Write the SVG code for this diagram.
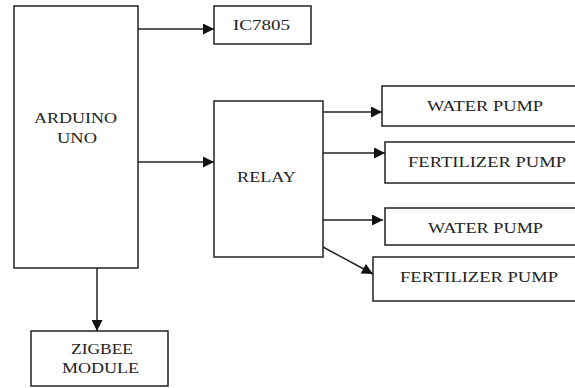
<svg xmlns="http://www.w3.org/2000/svg" width="575" height="388" viewBox="0 0 575 388">
<style>
.box{fill:#fff;stroke:#222;stroke-width:1.5}
.t{font-family:'Liberation Serif','DejaVu Serif',serif;font-size:15px;fill:#222;text-anchor:start}
.c{stroke:#222;stroke-width:1.5;fill:none}
</style>
<defs>
<marker id="ah" viewBox="0 0 10 10" refX="10" refY="5" markerWidth="12" markerHeight="11" markerUnits="userSpaceOnUse" orient="auto">
<path d="M0,0L10,5L0,10z" fill="#111"/>
</marker>
</defs>
<rect width="575" height="388" fill="#fff"/>
<g id="arduino"><rect class="box" x="14" y="6" width="124" height="262"/>
<text class="t" x="34" y="123" textLength="83" lengthAdjust="spacingAndGlyphs">ARDUINO</text>
<text class="t" x="57" y="143" textLength="40" lengthAdjust="spacingAndGlyphs">UNO</text></g>
<g id="ic7805"><rect class="box" x="214" y="6" width="97" height="38"/>
<text class="t" x="233" y="30" textLength="57" lengthAdjust="spacingAndGlyphs">IC7805</text></g>
<g id="relay"><rect class="box" x="214" y="101" width="109" height="156"/>
<text class="t" x="237" y="182" textLength="59" lengthAdjust="spacingAndGlyphs">RELAY</text></g>
<g id="waterpump1"><rect class="box" x="382" y="86" width="200" height="40"/>
<text class="t" x="427" y="111" textLength="116" lengthAdjust="spacingAndGlyphs">WATER PUMP</text></g>
<g id="fertpump1"><rect class="box" x="385" y="142" width="200" height="41"/>
<text class="t" x="408" y="167" textLength="158" lengthAdjust="spacingAndGlyphs">FERTILIZER PUMP</text></g>
<g id="waterpump2"><rect class="box" x="385" y="208" width="200" height="37"/>
<text class="t" x="428" y="233" textLength="115" lengthAdjust="spacingAndGlyphs">WATER PUMP</text></g>
<g id="fertpump2"><rect class="box" x="373" y="257" width="210" height="44"/>
<text class="t" x="400" y="282" textLength="158" lengthAdjust="spacingAndGlyphs">FERTILIZER PUMP</text></g>
<g id="zigbee"><rect class="box" x="31" y="331" width="137" height="55"/>
<text class="t" x="71" y="354" textLength="62" lengthAdjust="spacingAndGlyphs">ZIGBEE</text>
<text class="t" x="62" y="373" textLength="77" lengthAdjust="spacingAndGlyphs">MODULE</text></g>
<g id="connectors">
<line class="c" x1="138" y1="29" x2="214" y2="29" marker-end="url(#ah)"/>
<line class="c" x1="138" y1="162" x2="214" y2="162" marker-end="url(#ah)"/>
<line class="c" x1="323" y1="112" x2="382" y2="112" marker-end="url(#ah)"/>
<line class="c" x1="323" y1="153" x2="385" y2="153" marker-end="url(#ah)"/>
<line class="c" x1="323" y1="220" x2="383" y2="220" marker-end="url(#ah)"/>
<line class="c" x1="323" y1="247" x2="373" y2="274" marker-end="url(#ah)"/>
<line class="c" x1="97" y1="268" x2="97" y2="331" marker-end="url(#ah)"/>
</g>
</svg>
